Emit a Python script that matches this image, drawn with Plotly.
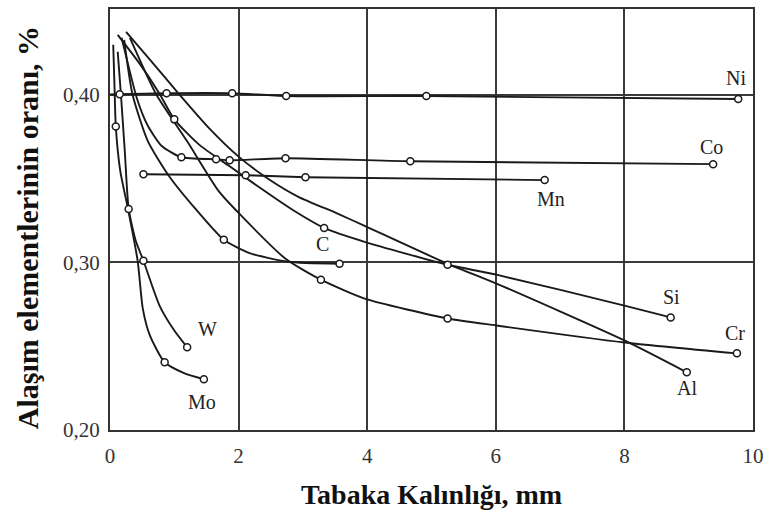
import plotly.graph_objects as go

# ---- data (thickness mm, fraction %) ----
NI_X = [0.0, 0.15, 0.88, 1.90, 2.74, 4.92, 9.77]
NI_Y = [0.400, 0.4002, 0.4008, 0.4008, 0.3991, 0.3991, 0.3973]
NI_M = [1, 2, 3, 4, 5, 6]

CO_X = [0.18, 0.30, 0.42, 0.58, 0.80, 1.11, 1.65, 1.86, 2.73, 4.67, 9.38]
CO_Y = [0.4338, 0.4150, 0.3975, 0.3820, 0.3695, 0.3626, 0.3614, 0.3608, 0.3620, 0.3602, 0.3585]
CO_M = [5, 6, 7, 8, 9, 10]

MN_X = [0.52, 2.11, 3.04, 6.76]
MN_Y = [0.3525, 0.3519, 0.3507, 0.3490]
MN_M = [0, 1, 2, 3]

C_X = [0.22, 0.35, 0.59, 0.92, 1.33, 1.77, 2.16, 2.77, 3.57]
C_Y = [0.4326, 0.4000, 0.3721, 0.3513, 0.3318, 0.3134, 0.3056, 0.3003, 0.2991]
C_M = [5, 8]

SI_X = [0.12, 0.45, 0.77, 1.00, 1.39, 1.85, 2.31, 2.85, 3.33, 3.96, 5.25, 6.01, 8.00, 8.72]
SI_Y = [0.4356, 0.4190, 0.4005, 0.3852, 0.3700, 0.3575, 0.3450, 0.3310, 0.3205, 0.3122, 0.2985, 0.2926, 0.2742, 0.2671]
SI_M = [3, 8, 10, 13]

CR_X = [0.31, 0.72, 1.20, 1.69, 2.00, 2.73, 3.28, 3.96, 5.25, 6.01, 8.00, 9.75]
CR_Y = [0.4338, 0.4000, 0.3721, 0.3424, 0.3294, 0.3021, 0.2896, 0.2783, 0.2665, 0.2623, 0.2522, 0.2457]
CR_M = [6, 8, 11]

AL_X = [0.25, 0.62, 1.08, 1.54, 2.00, 2.47, 2.93, 3.54, 3.96, 5.25, 6.01, 8.00, 8.97]
AL_Y = [0.4374, 0.4208, 0.4000, 0.3800, 0.3630, 0.3495, 0.3390, 0.3290, 0.3217, 0.2991, 0.2873, 0.2534, 0.2344]
AL_M = [12]

W_X = [0.12, 0.17, 0.23, 0.29, 0.40, 0.52, 0.77, 1.00, 1.20]
W_Y = [0.4255, 0.4000, 0.3662, 0.3318, 0.3128, 0.3009, 0.2742, 0.2593, 0.2493]
W_M = [3, 5, 8]

MO_X = [0.05, 0.07, 0.09, 0.16, 0.28, 0.43, 0.51, 0.62, 0.85, 1.16, 1.46]
MO_Y = [0.4297, 0.4050, 0.3810, 0.3543, 0.3318, 0.3009, 0.2724, 0.2564, 0.2404, 0.2338, 0.2303]
MO_M = [2, 8, 10]

LABELS = ["Ni", "Co", "Mn", "C", "Si", "Cr", "Al", "W", "Mo"]
LABEL_X = [9.74, 9.35, 6.86, 3.31, 8.74, 9.72, 8.98, 1.51, 1.43]
LABEL_Y = [0.4098, 0.3687, 0.3378, 0.311, 0.279, 0.2576, 0.225, 0.260, 0.2166]

X_TICKS = [0, 2, 4, 6, 8, 10]
Y_TICKS = [0.20, 0.30, 0.40]
Y_TICKTEXT = ["0,20", "0,30", "0,40"]

series = [
    (NI_X, NI_Y, NI_M), (CO_X, CO_Y, CO_M), (MN_X, MN_Y, MN_M),
    (C_X, C_Y, C_M), (SI_X, SI_Y, SI_M), (CR_X, CR_Y, CR_M),
    (AL_X, AL_Y, AL_M), (W_X, W_Y, W_M), (MO_X, MO_Y, MO_M),
]

SERIF = "'Liberation Serif', 'Times New Roman', serif"
fig = go.Figure()
for xs, ys, mk in series:
    fig.add_trace(go.Scatter(
        x=xs, y=ys, mode="lines",
        line=dict(color="#1a1a1a", width=1.9, shape="spline", smoothing=0.6),
        showlegend=False, hoverinfo="skip"))
for xs, ys, mk in series:
    fig.add_trace(go.Scatter(
        x=[xs[i] for i in mk], y=[ys[i] for i in mk], mode="markers",
        marker=dict(symbol="circle", size=7, color="white",
                    line=dict(color="#1a1a1a", width=1.5)),
        showlegend=False))

for t, lx, ly in zip(LABELS, LABEL_X, LABEL_Y):
    fig.add_annotation(x=lx, y=ly, text=t, showarrow=False,
                       font=dict(family=SERIF, size=20, color="#222"))

fig.add_annotation(xref="paper", yref="paper", x=0.5, y=-0.154,
                   text="<b>Tabaka Kalınlığı, mm</b>", showarrow=False,
                   xanchor="center", yanchor="middle",
                   font=dict(family=SERIF, size=28, color="#111"))
fig.add_annotation(xref="paper", yref="paper", x=-0.127, y=0.48,
                   text="<b>Alaşım elementlerinin oranı, %</b>", showarrow=False,
                   textangle=-90, xanchor="center", yanchor="middle",
                   font=dict(family=SERIF, size=30, color="#111"))

fig.update_xaxes(range=[0, 10], tickvals=X_TICKS, ticks="",
                 showgrid=True, gridcolor="#3a3a3a", gridwidth=1.5,
                 showline=True, linecolor="#333", linewidth=2, mirror=True,
                 zeroline=False, ticklabelstandoff=6,
                 tickfont=dict(family=SERIF, size=21, color="#333"))
fig.update_yaxes(range=[0.20, 0.451], tickvals=Y_TICKS, ticktext=Y_TICKTEXT, ticks="",
                 showgrid=True, gridcolor="#3a3a3a", gridwidth=1.5,
                 showline=True, linecolor="#333", linewidth=2, mirror=True,
                 zeroline=False, ticklabelstandoff=4,
                 tickfont=dict(family=SERIF, size=21, color="#333"))

fig.update_layout(width=771, height=519,
                  margin=dict(l=110, r=12, t=7, b=89),
                  plot_bgcolor="white", paper_bgcolor="white")

fig.write_html("out.html")
